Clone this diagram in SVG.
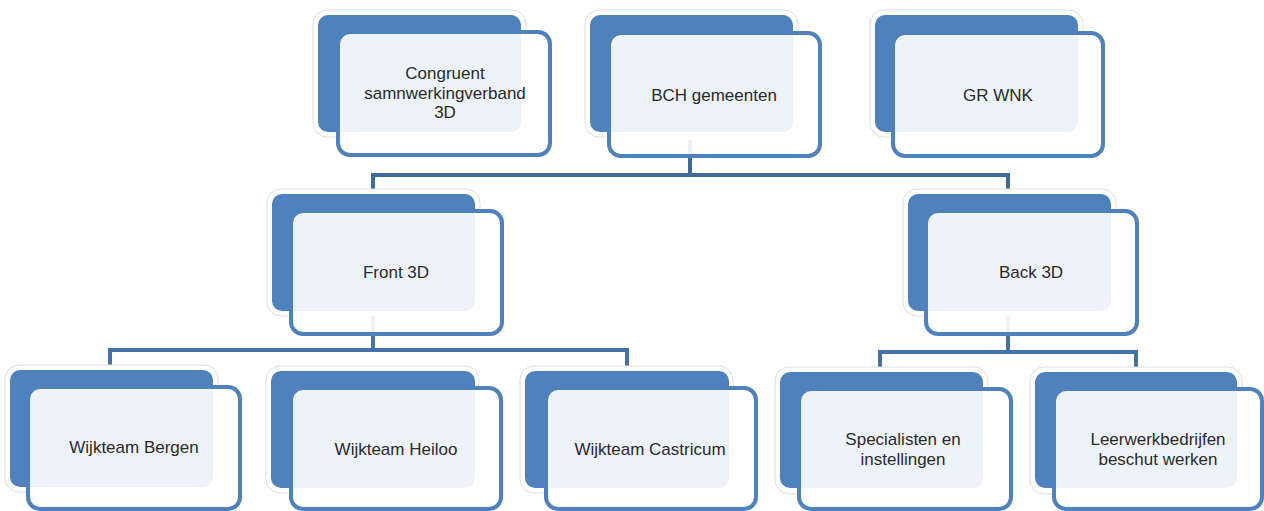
<svg xmlns="http://www.w3.org/2000/svg" width="1264" height="511" viewBox="0 0 1264 511">
<style>
.halo{fill:#ffffff;stroke:#dedede;stroke-width:1}
.back{fill:#4f81bd}
.front{fill:#ffffff;fill-opacity:0.9;stroke:#4f81bd;stroke-width:4}
.lbl{font-family:"Liberation Sans",Arial,sans-serif;font-size:17px;fill:#2a2a2a;text-anchor:middle}
.conn{fill:none;stroke:#4672a8;stroke-width:4}
.conn-top{fill:none;stroke:#41699c;stroke-width:4}
</style>
<rect width="1264" height="511" fill="#ffffff"/>
<g id="connectors">
<path class="conn-top" d="M690,140 V175 M373,175 H1008 M373,173 V194 M1008,173 V194"/>
<path class="conn" d="M373,316 V350 M110,350 H627 M110,348 V370 M627,348 V370"/>
<path class="conn" d="M1008,316 V352 M880,352 H1136 M880,350 V370 M1136,350 V370"/>
</g>
<g id="n1">
<rect class="halo" x="313" y="10" width="213" height="127" rx="14"/>
<rect class="back" x="318" y="15" width="203" height="117" rx="10"/>
<rect class="front" x="338" y="32" width="212" height="123" rx="12"/>
<text class="lbl" x="445" y="79">Congruent</text>
<text class="lbl" x="445" y="98.5">samnwerkingverband</text>
<text class="lbl" x="445" y="118">3D</text>
</g>
<g id="n2">
<rect class="halo" x="585" y="10" width="213" height="127" rx="14"/>
<rect class="back" x="590" y="15" width="203" height="117" rx="10"/>
<rect class="front" x="609" y="33" width="211" height="123" rx="12"/>
<text class="lbl" x="714" y="101">BCH gemeenten</text>
</g>
<g id="n3">
<rect class="halo" x="870" y="10" width="213" height="127" rx="14"/>
<rect class="back" x="875" y="15" width="203" height="117" rx="10"/>
<rect class="front" x="893" y="33" width="210" height="123" rx="12"/>
<text class="lbl" x="998" y="101">GR WNK</text>
</g>
<g id="n4">
<rect class="halo" x="267" y="189" width="213" height="127" rx="14"/>
<rect class="back" x="272" y="194" width="203" height="117" rx="10"/>
<rect class="front" x="291" y="211" width="211" height="123" rx="12"/>
<text class="lbl" x="396" y="278">Front 3D</text>
</g>
<g id="n5">
<rect class="halo" x="903" y="189" width="213" height="127" rx="14"/>
<rect class="back" x="908" y="194" width="203" height="117" rx="10"/>
<rect class="front" x="926" y="211" width="211" height="123" rx="12"/>
<text class="lbl" x="1031" y="278">Back 3D</text>
</g>
<g id="n6">
<rect class="halo" x="5" y="365" width="213" height="127" rx="14"/>
<rect class="back" x="10" y="370" width="203" height="117" rx="10"/>
<rect class="front" x="28" y="387" width="212" height="122" rx="12"/>
<text class="lbl" x="134" y="453">Wijkteam Bergen</text>
</g>
<g id="n7">
<rect class="halo" x="266" y="366" width="213" height="127" rx="14"/>
<rect class="back" x="271" y="371" width="204" height="117" rx="10"/>
<rect class="front" x="291" y="388" width="210" height="121" rx="12"/>
<text class="lbl" x="396" y="455">Wijkteam Heiloo</text>
</g>
<g id="n8">
<rect class="halo" x="520" y="366" width="213" height="127" rx="14"/>
<rect class="back" x="525" y="371" width="204" height="117" rx="10"/>
<rect class="front" x="546" y="388" width="210" height="121" rx="12"/>
<text class="lbl" x="650" y="455">Wijkteam Castricum</text>
</g>
<g id="n9">
<rect class="halo" x="775" y="367" width="213" height="127" rx="14"/>
<rect class="back" x="780" y="372" width="203" height="116" rx="10"/>
<rect class="front" x="799" y="389" width="212" height="120" rx="12"/>
<text class="lbl" x="903" y="445">Specialisten en</text>
<text class="lbl" x="903" y="465">instellingen</text>
</g>
<g id="n10">
<rect class="halo" x="1030" y="367" width="212" height="127" rx="14"/>
<rect class="back" x="1035" y="372" width="202" height="116" rx="10"/>
<rect class="front" x="1054" y="389" width="208" height="120" rx="12"/>
<text class="lbl" x="1158" y="445">Leerwerkbedrijfen</text>
<text class="lbl" x="1158" y="465">beschut werken</text>
</g>
</svg>
